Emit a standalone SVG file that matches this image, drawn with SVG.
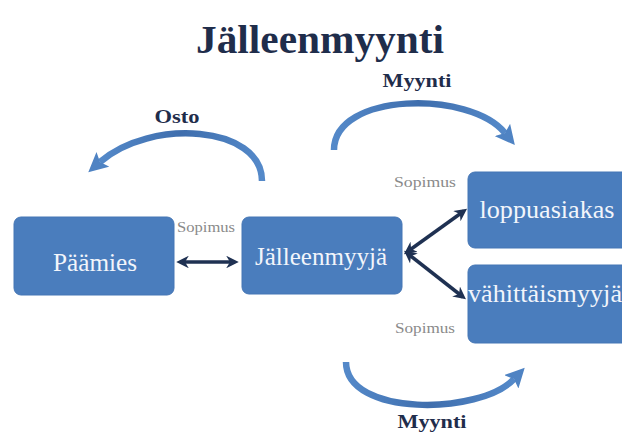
<svg xmlns="http://www.w3.org/2000/svg" width="622" height="441" viewBox="0 0 622 441" font-family="Liberation Serif, serif">
<defs>
<style>
.box{fill:#4a7dbd;stroke:#4576b5;stroke-width:1}
.bt{font-size:25px;fill:#f2f5fb;text-anchor:middle}
.title{font-weight:bold;font-size:40px;fill:#1f2d4b;text-anchor:middle}
.lbl{font-weight:bold;font-size:19px;fill:#1f2d4b;text-anchor:middle}
.sop{font-size:14px;fill:#8a8a8a;text-anchor:middle}
.arc{fill:none;stroke:url(#ag);stroke-width:6.5;stroke-linecap:butt}
.dbl{fill:none;stroke:#1f3152;stroke-width:3.5}
</style>
<linearGradient id="ag" x1="0" y1="0" x2="1" y2="0">
<stop offset="0" stop-color="#5489c9"/>
<stop offset="0.5" stop-color="#3f6ead"/>
<stop offset="1" stop-color="#5489c9"/>
</linearGradient>
<marker id="ah" viewBox="0 0 10 10" refX="2" refY="5" markerWidth="3" markerHeight="3" orient="auto" markerUnits="strokeWidth">
<path d="M0,0 L10,5 L0,10 L2,5 z" fill="#4f83c3"/>
</marker>
<marker id="dh" viewBox="0 0 10 10" refX="7" refY="5" markerWidth="3.6" markerHeight="3.6" orient="auto-start-reverse" markerUnits="strokeWidth">
<path d="M0,0 L10,5 L0,10 L3,5 z" fill="#1f3152"/>
</marker>
</defs>
<rect width="622" height="441" fill="#ffffff"/>
<text class="title" font-family="Liberation Serif, serif" x="320" y="53" textLength="248" lengthAdjust="spacingAndGlyphs">Jälleenmyynti</text>

<g id="connectors">
<path class="arc" d="M262,181 C262,125 150,118 100,162" marker-end="url(#ah)"/>
<path class="arc" d="M334,150 C334,92 470,90 505,133" marker-end="url(#ah)"/>
<path class="arc" d="M346,362 C346,417 480,415 514,379" marker-end="url(#ah)"/>
<line class="dbl" x1="180" y1="262" x2="235" y2="262" marker-start="url(#dh)" marker-end="url(#dh)"/>
<line class="dbl" x1="407" y1="252" x2="464" y2="211" marker-start="url(#dh)" marker-end="url(#dh)"/>
<line class="dbl" x1="407" y1="253" x2="463" y2="297" marker-start="url(#dh)" marker-end="url(#dh)"/>
</g>

<g id="labels" font-family="Liberation Serif, serif">
<text class="lbl" x="177" y="123" textLength="45" lengthAdjust="spacingAndGlyphs">Osto</text>
<text class="lbl" x="417" y="87" textLength="69" lengthAdjust="spacingAndGlyphs">Myynti</text>
<text class="lbl" x="432" y="428" textLength="69" lengthAdjust="spacingAndGlyphs">Myynti</text>
<text class="sop" x="206" y="232" textLength="58" lengthAdjust="spacingAndGlyphs">Sopimus</text>
<text class="sop" x="425" y="187" textLength="62" lengthAdjust="spacingAndGlyphs">Sopimus</text>
<text class="sop" x="425" y="333" textLength="60" lengthAdjust="spacingAndGlyphs">Sopimus</text>
</g>

<g id="paamies" font-family="Liberation Serif, serif">
<rect class="box" x="14" y="217" width="160" height="78" rx="7"/>
<text class="bt" x="95" y="271" textLength="84" lengthAdjust="spacingAndGlyphs">Päämies</text>
</g>
<g id="jalleenmyyja" font-family="Liberation Serif, serif">
<rect class="box" x="242" y="217" width="160" height="77" rx="7"/>
<text class="bt" x="321" y="265" textLength="132" lengthAdjust="spacingAndGlyphs">Jälleenmyyjä</text>
</g>
<g id="loppuasiakas" font-family="Liberation Serif, serif">
<rect class="box" x="468" y="172" width="166" height="76" rx="7"/>
<text class="bt" x="547" y="218" textLength="135" lengthAdjust="spacingAndGlyphs">loppuasiakas</text>
</g>
<g id="vahittaismyyja" font-family="Liberation Serif, serif">
<rect class="box" x="468" y="265" width="166" height="78" rx="7"/>
<text class="bt" x="545" y="302" textLength="154" lengthAdjust="spacingAndGlyphs">vähittäismyyjä</text>
</g>
</svg>
